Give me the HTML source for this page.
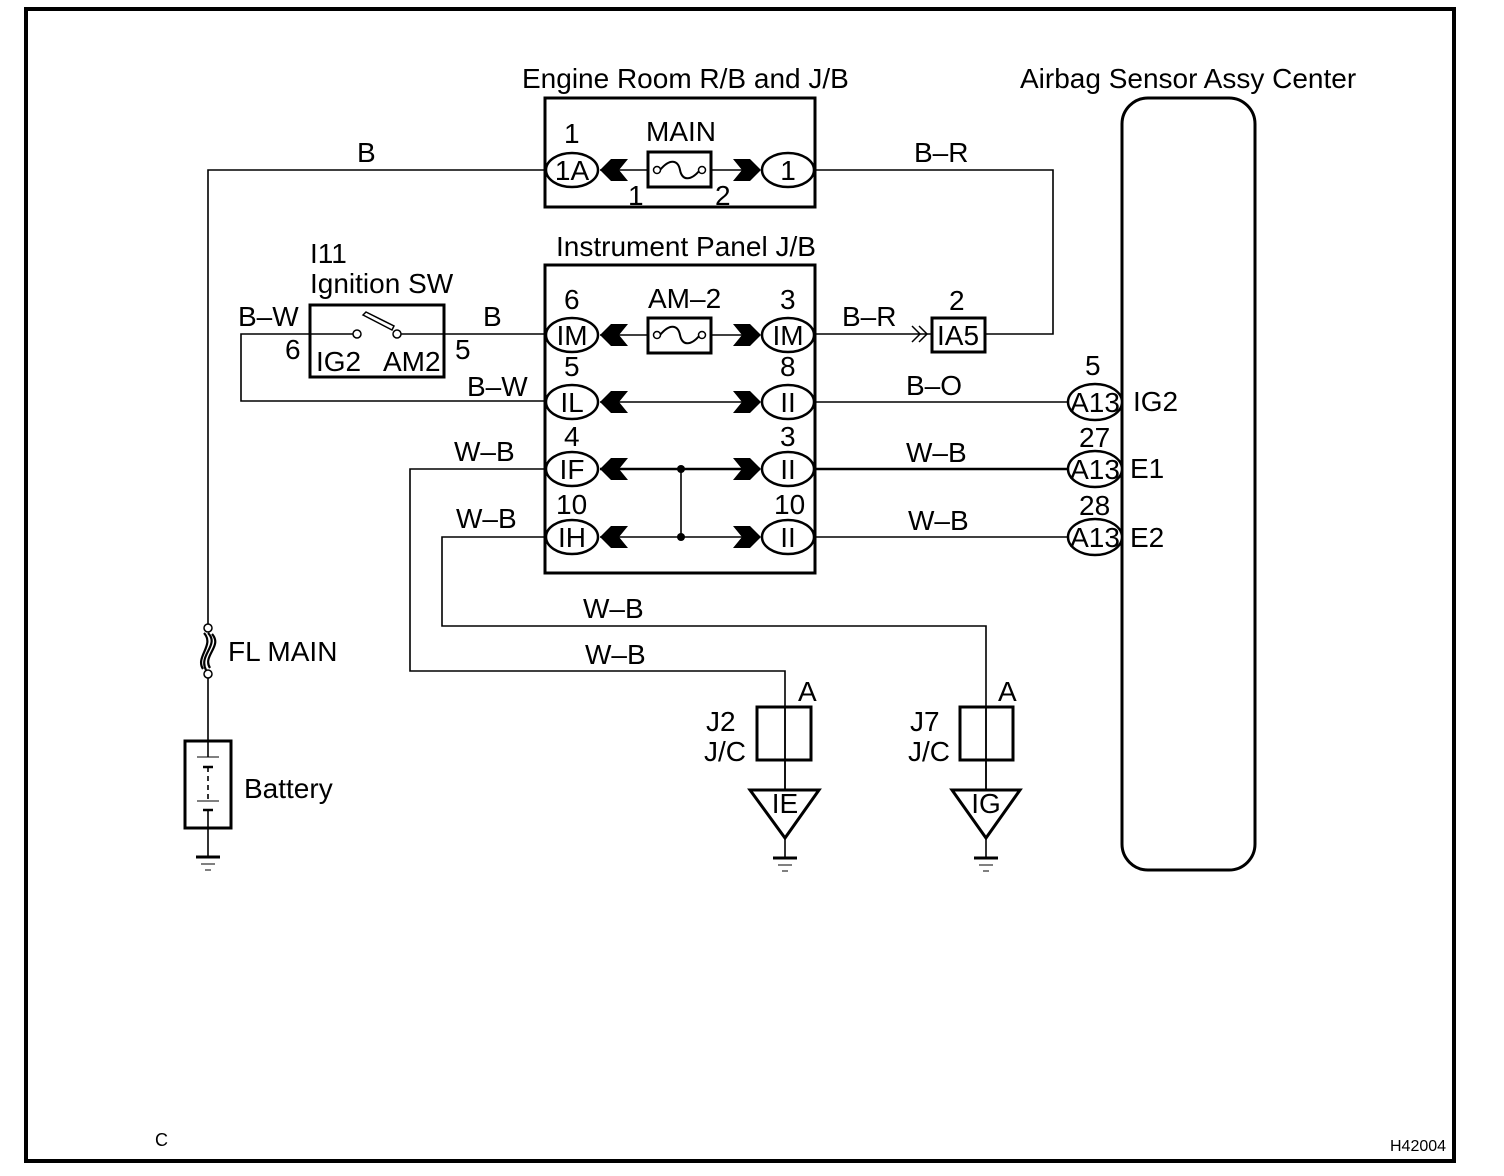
<!DOCTYPE html>
<html><head><meta charset="utf-8"><style>
html,body{margin:0;padding:0;background:#fff;}
svg{display:block;}
text{font-family:"Liberation Sans",Arial,sans-serif;font-size:28px;fill:#000;}
</style></head><body>
<svg width="1504" height="1176" viewBox="0 0 1504 1176" xmlns="http://www.w3.org/2000/svg">
<defs>
  <path id="la" d="M0,0 L11,-11 L28,-11 L19,0 L28,11 L11,11 Z"/>
  <path id="ra" d="M28,0 L17,-11 L0,-11 L9,0 L0,11 L17,11 Z"/>
</defs>
<rect x="26" y="9" width="1428" height="1152" fill="none" stroke="#000" stroke-width="4"/>

<g fill="none" stroke="#000" stroke-width="1.6">
  <polyline points="545,170 208,170 208,624"/>
  <line x1="208" y1="677" x2="208" y2="741"/>
  <line x1="208" y1="828" x2="208" y2="856"/>
  <polyline points="815,170 1053,170 1053,334 985,334"/>
  <line x1="815" y1="334" x2="932" y2="334"/>
  <polyline points="545,334 401,334"/>
  <polyline points="353,334 241,334 241,401 545,401"/>
  <line x1="815" y1="402" x2="1070" y2="402"/>
  <line x1="815" y1="537" x2="1070" y2="537"/>
  <line x1="600" y1="402" x2="760" y2="402"/>
  <line x1="600" y1="469" x2="760" y2="469" stroke-width="2.4"/>
  <line x1="600" y1="537" x2="760" y2="537"/>
  <line x1="600" y1="335" x2="760" y2="335"/>
  <line x1="600" y1="170" x2="760" y2="170"/>
  <line x1="681" y1="469" x2="681" y2="537"/>
  <polyline points="545,469 410,469 410,671 785,671 785,790" />
  <polyline points="545,537 442,537 442,626 986,626 986,790"/>
  <line x1="785" y1="838" x2="785" y2="858"/>
  <line x1="986" y1="838" x2="986" y2="858"/>
</g>
<line x1="815" y1="469" x2="1070" y2="469" stroke="#000" stroke-width="2.6"/>

<g fill="none" stroke="#000" stroke-width="3">
  <rect x="545" y="98" width="270" height="109"/>
  <rect x="545" y="265" width="270" height="308"/>
  <rect x="310" y="305" width="134" height="72"/>
  <rect x="648" y="152" width="63" height="35" fill="#fff"/>
  <rect x="648" y="318" width="63" height="35" fill="#fff"/>
  <rect x="932" y="318" width="53" height="34" fill="#fff"/>
  <rect x="1122" y="98" width="133" height="772" rx="26"/>
  <rect x="185" y="741" width="46" height="87" fill="#fff"/>
  <rect x="757" y="707" width="54" height="53"/>
  <rect x="960" y="707" width="53" height="53"/>
  <path d="M750,790 L819,790 L785,838 Z" fill="#fff"/>
  <path d="M952,790 L1020,790 L986,838 Z" fill="#fff"/>
</g>
<line x1="785" y1="707" x2="785" y2="790" stroke="#000" stroke-width="1.6"/>
<line x1="986" y1="707" x2="986" y2="790" stroke="#000" stroke-width="1.6"/>

<g fill="#fff" stroke="#000" stroke-width="2.5">
  <ellipse cx="572" cy="170" rx="26" ry="17"/>
  <ellipse cx="788" cy="170" rx="26" ry="17"/>
  <ellipse cx="572" cy="335" rx="26" ry="17"/>
  <ellipse cx="788" cy="335" rx="26" ry="17"/>
  <ellipse cx="572" cy="402" rx="26" ry="17"/>
  <ellipse cx="788" cy="402" rx="26" ry="17"/>
  <ellipse cx="572" cy="469" rx="26" ry="17"/>
  <ellipse cx="788" cy="469" rx="26" ry="17"/>
  <ellipse cx="572" cy="537" rx="26" ry="17"/>
  <ellipse cx="788" cy="537" rx="26" ry="17"/>
  <ellipse cx="1095" cy="402" rx="27" ry="18"/>
  <ellipse cx="1095" cy="469" rx="27" ry="18"/>
  <ellipse cx="1095" cy="537" rx="27" ry="18"/>
</g>
<g fill="#000">
  <use href="#la" x="600" y="170"/><use href="#ra" x="733" y="170"/>
  <use href="#la" x="600" y="335"/><use href="#ra" x="733" y="335"/>
  <use href="#la" x="600" y="402"/><use href="#ra" x="733" y="402"/>
  <use href="#la" x="600" y="469"/><use href="#ra" x="733" y="469"/>
  <use href="#la" x="600" y="537"/><use href="#ra" x="733" y="537"/>
  <circle cx="681" cy="469" r="4"/><circle cx="681" cy="537" r="4"/>
</g>
<path d="M912,326 L920,334 L912,342 M919,326 L927,334 L919,342" fill="none" stroke="#000" stroke-width="1.5"/>

<g fill="#fff" stroke="#000" stroke-width="1.5">
  <path d="M660,170 C670,158 678,160 680,170 C682,180 690,182 700,170" fill="none" stroke-width="2"/>
  <circle cx="657" cy="170" r="3.5"/><circle cx="702" cy="170" r="3.5"/>
  <path d="M660,335 C670,323 678,325 680,335 C682,345 690,347 700,335" fill="none" stroke-width="2"/>
  <circle cx="657" cy="335" r="3.5"/><circle cx="702" cy="335" r="3.5"/>
  <circle cx="357" cy="334" r="4"/><circle cx="397" cy="334" r="4"/>
  <path d="M363,315 L392,330 L394,326 L366,312 Z"/>
  <circle cx="208" cy="628" r="4"/><circle cx="208" cy="674" r="4"/>
  <path d="M208,633 C220,645 198,655 206,670 M204,633 C215,645 195,657 203,669 M212,634 C223,646 202,656 210,668" fill="none" stroke-width="2.2"/>
</g>
<g stroke="#000" fill="none">
  <line x1="208" y1="741" x2="208" y2="757" stroke-width="1.6"/>
  <line x1="197" y1="757" x2="219" y2="757" stroke-width="1"/>
  <line x1="203" y1="767" x2="213" y2="767" stroke-width="2.5"/>
  <line x1="208" y1="767" x2="208" y2="800" stroke-width="1.6" stroke-dasharray="5,4"/>
  <line x1="197" y1="801" x2="219" y2="801" stroke-width="1"/>
  <line x1="203" y1="810" x2="213" y2="810" stroke-width="2.5"/>
  <line x1="208" y1="810" x2="208" y2="828" stroke-width="1.6"/>
</g>
<g stroke="#000">
  <line x1="196" y1="857" x2="220" y2="857" stroke-width="3"/><line x1="201" y1="864" x2="215" y2="864" stroke-width="1"/><line x1="205" y1="870" x2="211" y2="870" stroke-width="1"/>
  <line x1="773" y1="858" x2="797" y2="858" stroke-width="3"/><line x1="778" y1="865" x2="792" y2="865" stroke-width="1"/><line x1="782" y1="871" x2="788" y2="871" stroke-width="1"/>
  <line x1="974" y1="858" x2="998" y2="858" stroke-width="3"/><line x1="979" y1="865" x2="993" y2="865" stroke-width="1"/><line x1="983" y1="871" x2="989" y2="871" stroke-width="1"/>
</g>

<text x="522" y="88">Engine Room R/B and J/B</text>
<text x="1020" y="88">Airbag Sensor Assy Center</text>
<text x="556" y="256">Instrument Panel J/B</text>
<text x="310" y="263">I11</text>
<text x="310" y="293">Ignition SW</text>
<text x="564" y="143">1</text>
<text x="646" y="141">MAIN</text>
<text x="628" y="205">1</text>
<text x="715" y="205">2</text>
<text x="357" y="162">B</text>
<text x="914" y="162">B–R</text>
<text x="238" y="326">B–W</text>
<text x="285" y="359">6</text>
<text x="455" y="359">5</text>
<text x="483" y="326">B</text>
<text x="316" y="371">IG2</text>
<text x="383" y="371">AM2</text>
<text x="564" y="309">6</text>
<text x="648" y="308">AM–2</text>
<text x="780" y="309">3</text>
<text x="842" y="326">B–R</text>
<text x="949" y="310">2</text>
<text x="467" y="396">B–W</text>
<text x="564" y="376">5</text>
<text x="780" y="376">8</text>
<text x="906" y="395">B–O</text>
<text x="1085" y="375">5</text>
<text x="1133" y="411">IG2</text>
<text x="454" y="461">W–B</text>
<text x="564" y="446">4</text>
<text x="780" y="446">3</text>
<text x="906" y="462">W–B</text>
<text x="1079" y="447">27</text>
<text x="1130" y="478">E1</text>
<text x="456" y="528">W–B</text>
<text x="556" y="514">10</text>
<text x="774" y="514">10</text>
<text x="908" y="530">W–B</text>
<text x="1079" y="515">28</text>
<text x="1130" y="547">E2</text>
<text x="583" y="618">W–B</text>
<text x="585" y="664">W–B</text>
<text x="228" y="661">FL MAIN</text>
<text x="244" y="798">Battery</text>
<text x="798" y="701">A</text>
<text x="998" y="701">A</text>
<text x="706" y="731">J2</text>
<text x="704" y="761">J/C</text>
<text x="910" y="731">J7</text>
<text x="908" y="761">J/C</text>
<text x="155" y="1146" style="font-size:18px">C</text>
<text x="1390" y="1151" style="font-size:16px">H42004</text>

<g text-anchor="middle">
  <text x="572" y="180">1A</text>
  <text x="788" y="180">1</text>
  <text x="572" y="345">IM</text>
  <text x="788" y="345">IM</text>
  <text x="572" y="412">IL</text>
  <text x="788" y="412">II</text>
  <text x="572" y="479">IF</text>
  <text x="788" y="479">II</text>
  <text x="572" y="547">IH</text>
  <text x="788" y="547">II</text>
  <text x="958" y="345">IA5</text>
  <text x="1095" y="412">A13</text>
  <text x="1095" y="479">A13</text>
  <text x="1095" y="547">A13</text>
  <text x="785" y="813">IE</text>
  <text x="986" y="813">IG</text>
</g>
</svg>
</body></html>
